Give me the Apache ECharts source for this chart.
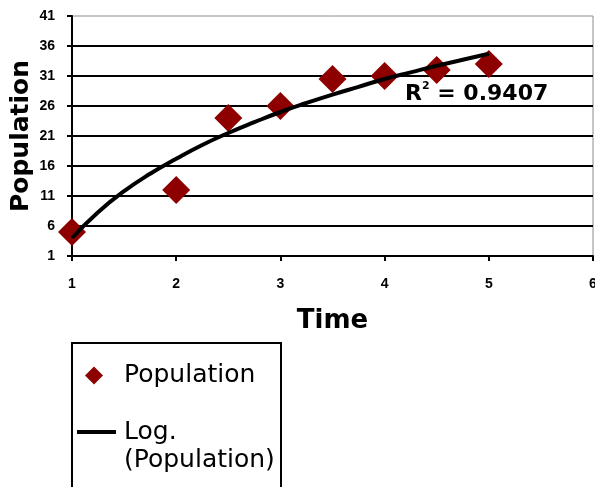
<!DOCTYPE html>
<html>
<head>
<meta charset="utf-8">
<script src="https://cdn.jsdelivr.net/npm/echarts@6/dist/echarts.min.js"></script>
<style>
html, body { margin: 0; padding: 0; background: #fff; }
#main { width: 595px; height: 487px; }
</style>
</head>
<body>
<div id="main"></div>
<script>
// measured points
var timeValues = [1, 2, 2.5, 3, 3.5, 4, 4.5, 5];
var populationValues = [5, 12, 24, 26, 30.5, 31, 32, 33];
// log trendline
var trendTime = [1, 1.25, 1.5, 1.75, 2, 2.25, 2.5, 2.75, 3, 3.25, 3.5, 3.75, 4, 4.25, 4.5, 4.75, 5];
var trendValues = [4.0, 8.3, 11.8, 14.7, 17.2, 19.5, 21.5, 23.3, 25.0, 26.5, 27.9, 29.2, 30.5, 31.6, 32.7, 33.7, 34.7];
var xTickLabels = [1, 2, 3, 4, 5, 6];
var yTickLabels = [1, 6, 11, 16, 21, 26, 31, 36, 41];
var r2Text = '0.9407';

var chart = echarts.init(document.getElementById('main'));

var scatterData = timeValues.map(function (t, i) { return [t, populationValues[i]]; });
var trendData = trendTime.map(function (t, i) { return [t, trendValues[i]]; });

var font = 'DejaVu Sans';
var tickFont = 'Liberation Sans';

var option = {
	animation: false,
	backgroundColor: '#fff',
	grid: {
		left: 72, right: 2, top: 16, bottom: 231,
		outerBoundsMode: 'none',
		show: true, borderColor: '#8c8c8c', borderWidth: 1
	},
	xAxis: {
		type: 'value',
		min: xTickLabels[0],
		max: xTickLabels[xTickLabels.length - 1],
		interval: xTickLabels[1] - xTickLabels[0],
		name: 'Time',
		nameLocation: 'middle',
		nameGap: 52,
		nameTextStyle: { fontFamily: font, fontWeight: 'bold', fontSize: 26, color: '#000' },
		axisLine: { show: true, lineStyle: { color: '#000', width: 2 } },
		axisTick: { show: true, length: 5, lineStyle: { color: '#000', width: 2 } },
		axisLabel: { margin: 21, fontFamily: tickFont, fontWeight: 'bold', fontSize: 14, color: '#000' },
		splitLine: { show: false }
	},
	yAxis: {
		type: 'value',
		min: yTickLabels[0],
		max: yTickLabels[yTickLabels.length - 1],
		interval: yTickLabels[1] - yTickLabels[0],
		name: 'Population',
		nameLocation: 'middle',
		nameGap: 38,
		nameMoveOverlap: false,
		nameTextStyle: { fontFamily: font, fontWeight: 'bold', fontSize: 25, color: '#000' },
		axisLine: { show: true, lineStyle: { color: '#000', width: 2 } },
		axisTick: { show: true, length: 5, lineStyle: { color: '#000', width: 2 } },
		axisLabel: { margin: 17, fontFamily: tickFont, fontWeight: 'bold', fontSize: 14, color: '#000' },
		splitLine: { show: true, showMinLine: false, showMaxLine: false, lineStyle: { color: '#000', width: 2 } }
	},
	legend: [{
		data: [{ name: 'Population', icon: 'diamond' }],
		orient: 'vertical',
		left: 85, top: 363,
		padding: 0,
		itemWidth: 18, itemHeight: 18,
		textStyle: { fontFamily: font, fontSize: 25, color: '#000', padding: [0, 0, 0, 16] }
	}, {
		data: [{ name: 'Log. (Population)', icon: 'rect' }],
		orient: 'vertical',
		left: 77, top: 390,
		padding: 0,
		itemWidth: 39, itemHeight: 4,
		itemStyle: { color: '#000' },
		formatter: function (name) { return ' \n' + name.replace(' ', '\n'); },
		textStyle: { fontFamily: font, fontSize: 25, lineHeight: 28, color: '#000', padding: [0, 0, 0, 3] }
	}],
	graphic: [{
		type: 'rect',
		shape: { x: 72, y: 343, width: 209, height: 200 },
		style: { fill: 'none', stroke: '#000', lineWidth: 2 }
	}, {
		type: 'text',
		left: 405, top: 81,
		style: {
			text: '{r|R}{s|2}{r| = ' + r2Text + '}',
			rich: {
				r: { fontFamily: font, fontWeight: 'bold', fontSize: 22, lineHeight: 26, fill: '#000' },
				s: { fontFamily: font, fontWeight: 'bold', fontSize: 11, lineHeight: 26, verticalAlign: 'top', fill: '#000' }
			}
		},
		z: 100
	}],
	series: [{
		name: 'Population',
		type: 'scatter',
		symbol: 'diamond',
		symbolSize: 28,
		itemStyle: { color: '#8e0000', opacity: 1 },
		data: scatterData,
		z: 2
	}, {
		name: 'Log. (Population)',
		type: 'line',
		showSymbol: false,
		symbol: 'none',
		smooth: true,
		lineStyle: { color: '#000', width: 4 },
		itemStyle: { color: '#000' },
		data: trendData,
		z: 3
	}]
};

chart.setOption(option);
</script>
</body>
</html>
